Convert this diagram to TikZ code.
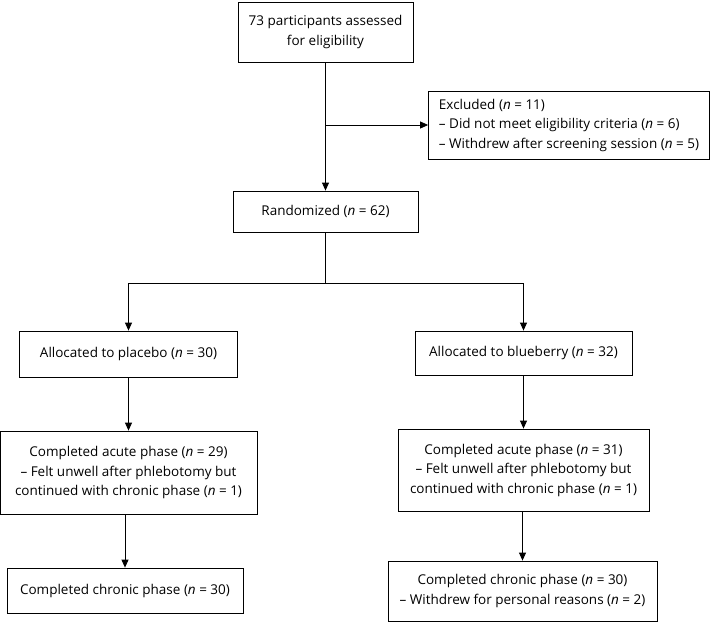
\documentclass[tikz,border=0pt]{standalone}
\usepackage{fontspec}
\setmainfont{Open Sans}
\usetikzlibrary{arrows.meta}

\tikzset{
  box/.style={draw, line width=0.8pt, align=center, inner sep=0pt},
  flow/.style={-{Triangle[length=8pt,width=7pt]}, line width=0.8pt},
}
\newcommand{\nn}{\textit{n}}

\begin{document}
\begin{tikzpicture}[x=1pt,y=-1pt,font=\fontsize{13.5}{19.5}\selectfont]
    \useasboundingbox (0,0) rectangle (710,622);
    % Enrolment
    \node[box, minimum width=175pt, minimum height=60pt] (assess) at (325.5,32)
        {73 participants assessed\\for eligibility};
    \node[box, minimum width=281pt, minimum height=68pt, align=left]
        (excl) at (569,125)
        {Excluded (\nn{} = 11)\\
         -- Did not meet eligibility criteria (\nn{} = 6)\\
         -- Withdrew after screening session (\nn{} = 5)};
    \node[box, minimum width=185pt, minimum height=41pt] (rand) at (325.5,211.5)
        {Randomized (\nn{} = 62)};
    % Allocation
    \node[box, minimum width=218pt, minimum height=46pt] (plac) at (128.5,354)
        {Allocated to placebo (\nn{} = 30)};
    \node[box, minimum width=217pt, minimum height=44pt] (blue) at (523.5,353)
        {Allocated to blueberry (\nn{} = 32)};
    % Follow-up
    \node[box, minimum width=257pt, minimum height=83pt] (acuteP) at (128.5,472.5)
        {Completed acute phase (\nn{} = 29)\\
         -- Felt unwell after phlebotomy but\\
         continued with chronic phase (\nn{} = 1)};
    \node[box, minimum width=251pt, minimum height=82pt] (acuteB) at (523.5,470)
        {Completed acute phase (\nn{} = 31)\\
         -- Felt unwell after phlebotomy but\\
         continued with chronic phase (\nn{} = 1)};
    \node[box, minimum width=236pt, minimum height=45pt] (chronP) at (125,590.5)
        {Completed chronic phase (\nn{} = 30)};
    \node[box, minimum width=269pt, minimum height=60pt] (chronB) at (522.5,591)
        {Completed chronic phase (\nn{} = 30)\\
         -- Withdrew for personal reasons (\nn{} = 2)};
    % Connectors
    \draw[flow] (assess) -- (rand);
    \coordinate (split) at (assess.south |- excl.west);
    \draw[flow] (split) -- (excl.west);
    \coordinate (fork) at (325.5,283);
    \draw[line width=0.8pt] (rand.south) -- (fork);
    \draw[flow] (fork) -| (plac.north);
    \draw[flow] (fork) -| (blue.north);
    \draw[flow] (plac.south) -- (plac.south |- acuteP.north);
    \draw[flow] (blue.south) -- (blue.south |- acuteB.north);
    \draw[flow] (chronP.north |- acuteP.south) -- (chronP.north);
    \draw[flow] (chronB.north |- acuteB.south) -- (chronB.north);
\end{tikzpicture}
\end{document}
